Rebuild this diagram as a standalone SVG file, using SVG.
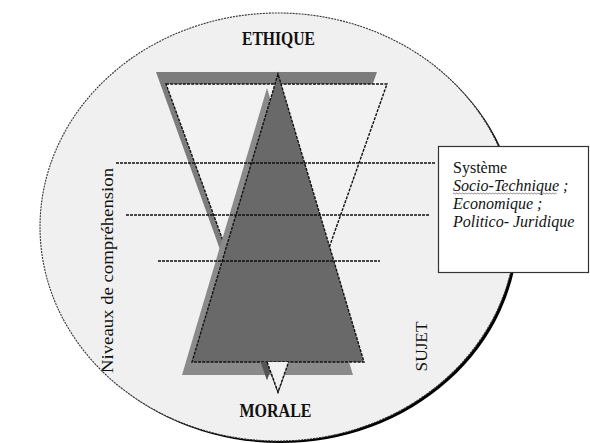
<svg xmlns="http://www.w3.org/2000/svg" width="590" height="443" viewBox="0 0 590 443">
<style>
.dash{fill:none;stroke:#111;stroke-width:1.4;stroke-dasharray:3 1.2}
.lvl{stroke:#111;stroke-width:1.4;stroke-dasharray:3 1}
.title{font-weight:bold;font-size:18px;fill:#111}
.txt{fill:#111}
.it{font-style:italic;fill:#111;font-size:16px}
</style>
<rect width="590" height="443" fill="#ffffff"/>
<g id="ellipse">
<ellipse cx="280.5" cy="229" rx="238" ry="214" fill="#000"/>
<ellipse cx="278" cy="227" rx="238" ry="214" fill="#f0f0f0" stroke="#333" stroke-width="1.1" stroke-dasharray="2 1"/>
</g>
<g id="ethique-triangle">
<polygon points="156,72 377,72 267,380" fill="#7c7c7c"/>
<polygon points="166,84 387,84 278,392" fill="#f2f2f2"/>
<polygon class="dash" points="166,84 387,84 278,392"/>
</g>
<g id="morale-triangle">
<polygon points="267,88 182,375 353,375" fill="#8a8a8a"/>
<polygon points="278,74 192,362 364,362" fill="#696969"/>
<polygon class="dash" points="278,74 192,362 364,362"/>
<polygon points="260.5,362 273.4,362 267,380" fill="#555"/>
<polygon points="267.1,362 288.6,362 278,392" fill="#f2f2f2"/>
<polyline class="dash" points="267.1,362 278,392 288.6,362"/>
</g>
<g id="connectors">
<line class="lvl" x1="116" y1="163" x2="436" y2="163"/>
<line class="lvl" x1="126" y1="215" x2="430" y2="215"/>
<line class="lvl" x1="158" y1="261" x2="380" y2="261"/>
</g>
<g id="systeme-box">
<rect x="438.5" y="146.5" width="150" height="126" fill="#fff" stroke="#333" stroke-width="1.2"/>
<text class="txt" font-family="'Liberation Serif', serif" x="453" y="173" font-size="16">Système</text>
<text class="it" font-family="'Liberation Serif', serif" x="453" y="191">Socio-Technique ;</text>
<path d="M453,193.5 q0.75,-1 1.5,0 t1.5,0 t1.5,0 t1.5,0 t1.5,0 t1.5,0 t1.5,0 t1.5,0 t1.5,0 t1.5,0 t1.5,0 t1.5,0 t1.5,0 t1.5,0 t1.5,0 t1.5,0 t1.5,0 t1.5,0 t1.5,0 t1.5,0 t1.5,0 t1.5,0 t1.5,0 t1.5,0 t1.5,0 t1.5,0 t1.5,0 t1.5,0 t1.5,0 t1.5,0 t1.5,0 t1.5,0 t1.5,0 t1.5,0 t1.5,0 t1.5,0 t1.5,0 t1.5,0 t1.5,0 t1.5,0 t1.5,0 t1.5,0 t1.5,0 t1.5,0 t1.5,0 t1.5,0 t1.5,0 t1.5,0 t1.5,0 t1.5,0 t1.5,0 t1.5,0 t1.5,0 t1.5,0 t1.5,0 t1.5,0 t1.5,0 t1.5,0 t1.5,0 t1.5,0 t1.5,0 t1.5,0 t1.5,0 t1.5,0 t1.5,0 t1.5,0 t1.5,0 t1.5,0 t1.5,0" fill="none" stroke="#666" stroke-width="0.8"/>
<text class="it" font-family="'Liberation Serif', serif" x="453" y="209">Economique ;</text>
<text class="it" font-family="'Liberation Serif', serif" x="453" y="227">Politico- Juridique</text>
</g>
<g id="labels">
<text id="ethique" class="title" font-family="'Liberation Serif', serif" x="278.5" y="45" text-anchor="middle" textLength="73" lengthAdjust="spacingAndGlyphs">ETHIQUE</text>
<text id="morale" class="title" font-family="'Liberation Serif', serif" x="275.5" y="417" text-anchor="middle" textLength="72" lengthAdjust="spacingAndGlyphs">MORALE</text>
<text id="niveaux" class="txt" font-family="'Liberation Serif', serif" font-size="17.5" transform="translate(113,270.5) rotate(-90)" text-anchor="middle" textLength="205" lengthAdjust="spacingAndGlyphs">Niveaux de compréhension</text>
<text id="sujet" class="txt" font-family="'Liberation Serif', serif" font-size="17" transform="translate(427,346.5) rotate(-90)" text-anchor="middle" textLength="50" lengthAdjust="spacingAndGlyphs">SUJET</text>
</g>
</svg>
